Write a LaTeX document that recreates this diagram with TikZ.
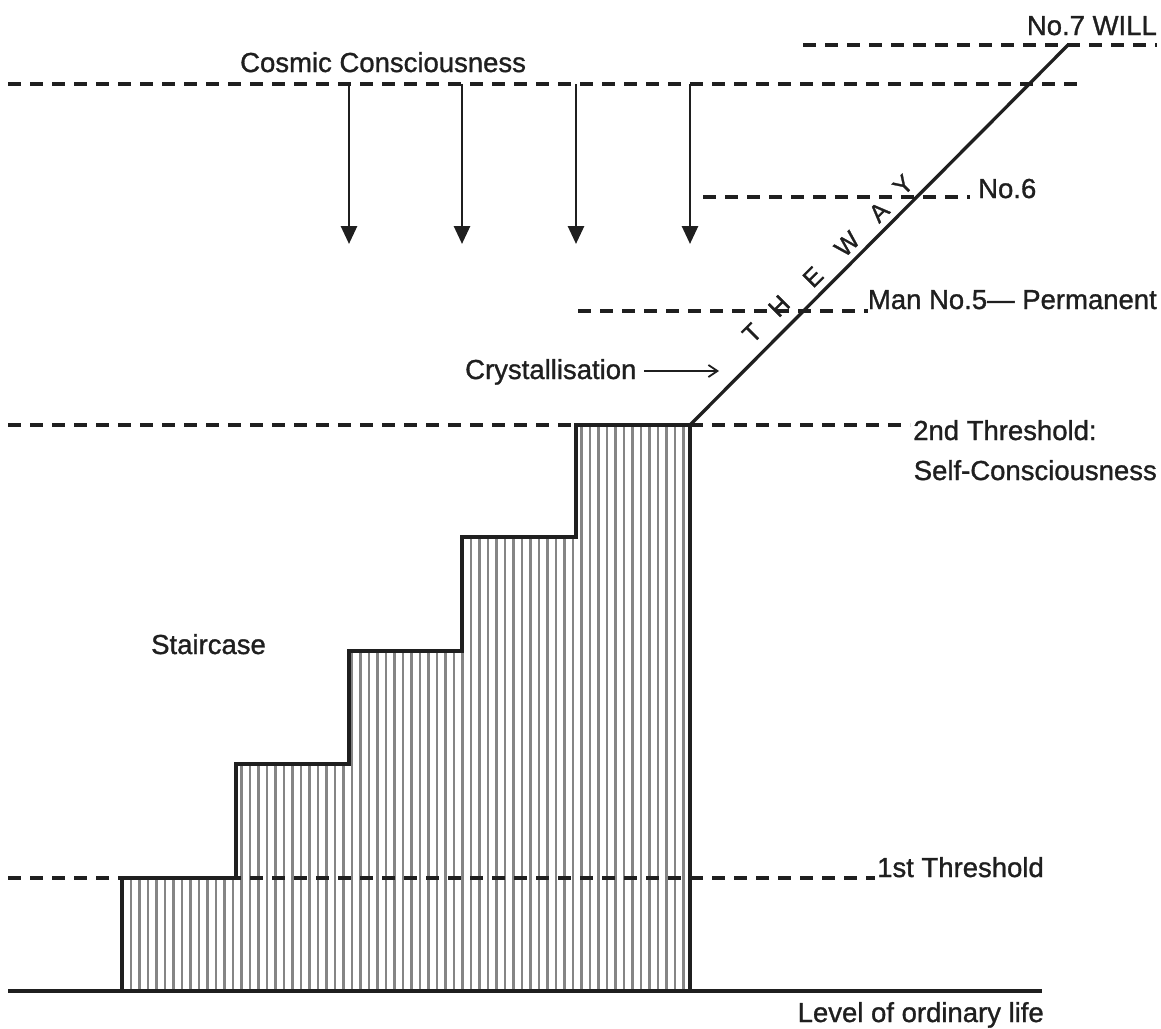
\documentclass[tikz,border=0pt]{standalone}
\usepackage{fontspec}
\setmainfont{Liberation Sans}
\newfontfamily\lblfont{Liberation Sans}[FakeBold=1.1]
\usetikzlibrary{arrows.meta}
\begin{document}
\begin{tikzpicture}[x=1pt,y=-1pt,
  lbl/.style={inner sep=0pt,font=\lblfont\fontsize{27.5}{31}\selectfont,text=black!88},
  lvl/.style={line width=3.4pt,dash pattern=on 13pt off 9pt,black!88},
  solid line/.style={line width=3.3pt,black!88},
  stair/.style={line width=4pt,black!88,line join=miter},
  hatch/.style={line width=2.2pt,black!48},
  down/.style={line width=2.8pt,black!88,-{Triangle[length=18pt,width=16pt]}},
  thin arrow/.style={line width=1.8pt,black!88,-{Straight Barb[length=9pt,width=12pt]}},
  way/.style={inner sep=0pt,font=\lblfont\fontsize{25}{28}\selectfont,text=black!88,rotate=45}]
\useasboundingbox (0,0) rectangle (1161,1028);
\fill[white] (0,0) rectangle (1161,1028);
% key points
\coordinate (s0) at (122,991);
\coordinate (s1) at (122,878);
\coordinate (s2) at (236,878);
\coordinate (s3) at (236,764);
\coordinate (s4) at (349,764);
\coordinate (s5) at (349,651);
\coordinate (s6) at (462,651);
\coordinate (s7) at (462,537);
\coordinate (s8) at (576,537);
\coordinate (s9) at (576,425);
\coordinate (top) at (690,425);
\coordinate (foot) at (690,991);
\coordinate (will) at (1068,45);
% hatch
\begin{scope}
\clip (s0)--(s1)--(s2)--(s3)--(s4)--(s5)--(s6)--(s7)--(s8)--(s9)--(top)--(foot)--cycle;
\foreach \x in {131,139.5,...,690} \draw[hatch] (\x,420) -- (\x,995);
\end{scope}
% dashed levels
\coordinate (l1a) at (8,878);   \coordinate (l1b) at (875,878);
\coordinate (l2a) at (8,425);   \coordinate (l2b) at (910,425);
\coordinate (l5a) at (578,311); \coordinate (l5b) at (868,311);
\coordinate (l6a) at (703,197); \coordinate (l6b) at (970,197);
\coordinate (lca) at (8,84);    \coordinate (lcb) at (1085,84);
\coordinate (l7a) at (803,45);  \coordinate (l7b) at (1157,45);
\draw[lvl] (l1a) -- (l1b);
\draw[lvl] (l2a) -- (l2b);
\draw[lvl] (l5a) -- (l5b);
\draw[lvl] (l6a) -- (l6b);
\draw[lvl] (lca) -- (lcb);
\draw[lvl] (l7a) -- (l7b);
% ground
\coordinate (g0) at (8,991); \coordinate (g1) at (1042,991);
\draw[solid line] (g0) -- (g1);
% staircase outline
\draw[stair] (s0)--(s1)--(s2)--(s3)--(s4)--(s5)--(s6)--(s7)--(s8)--(s9)--(top)--(foot)--cycle;
% the way
\draw[solid line] (top) -- (will);
% arrows down
\foreach \x [count=\i] in {349,462,576,690} {
  \coordinate (a\i) at (\x,84);
  \coordinate (b\i) at (\x,244);
  \draw[down] (a\i) -- (b\i);
}
% labels
\node[lbl,anchor=base east] (n7) at (1157,35) {No.7 WILL};
\node[lbl,anchor=base west] (cc) at (240,72) {Cosmic Consciousness};
\node[lbl,anchor=base west] (n6) at (978,198) {No.6};
\node[lbl,anchor=base east] (n5) at (1157,309) {Man No.5— Permanent};
\node[lbl,anchor=base west] (cr) at (465,379) {Crystallisation};
\node[lbl,anchor=base west] (t2) at (913,440) {2nd Threshold:};
\node[lbl,anchor=base east] (sc) at (1157,480) {Self-Consciousness};
\node[lbl,anchor=base west] (st) at (151,654) {Staircase};
\node[lbl,anchor=base west] (t1) at (877,877) {1st Threshold};
\node[lbl,anchor=base east] (lo) at (1044,1022) {Level of ordinary life};
% crystallisation arrow
\coordinate (cs) at (644,371);
\coordinate (ce) at (719,371);
\draw[thin arrow] (cs) -- (ce);
% THE WAY letters
\node[way] (wT) at (752,333) {T};
\node[way] (wH) at (779,306) {H};
\node[way] (wE) at (813,277) {E};
\node[way] (wW) at (847,244) {W};
\node[way] (wA) at (879,212) {A};
\node[way] (wY) at (903,185) {Y};
\end{tikzpicture}
\end{document}
